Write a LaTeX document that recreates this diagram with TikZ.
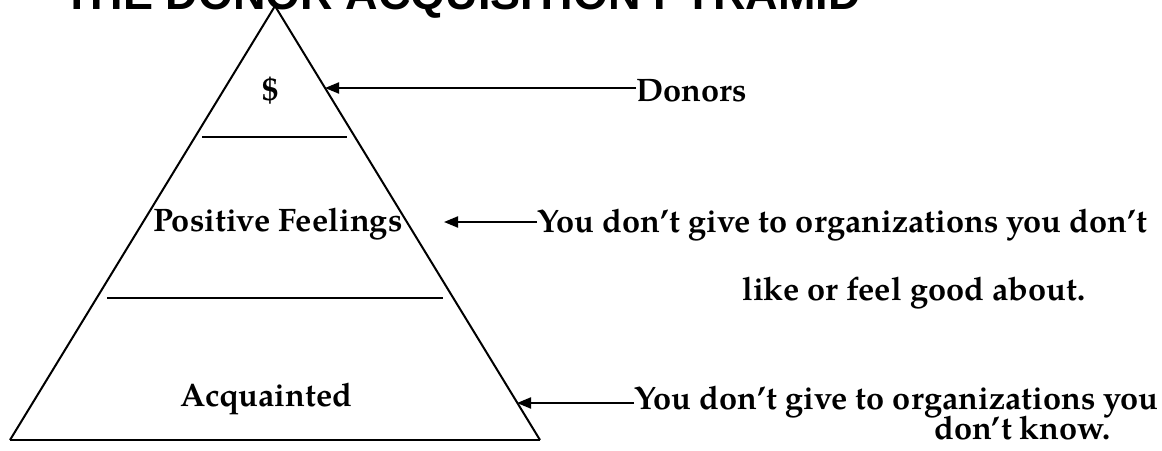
\documentclass[tikz,border=0pt]{standalone}
\usepackage{fontspec}
\setmainfont{TeX Gyre Pagella}
\newfontfamily\titlefont{Liberation Sans}
\usetikzlibrary{arrows.meta,calc}
\begin{document}
\begin{tikzpicture}[x=1pt,y=-1pt,
  lbl/.style={inner sep=0pt, anchor=base west, font=\fontsize{32.5}{39}\selectfont\bfseries},
  edge/.style={line width=2pt, line cap=butt},
  arr/.style={line width=2pt, -{Triangle[length=14pt,width=11pt]}}]
\useasboundingbox (0,0) rectangle (1162,450);
\clip (0,0) rectangle (1162,450);

% heading, partly above the page edge
\node[inner sep=0pt, anchor=base west, font=\titlefont\bfseries\fontsize{45}{50}\selectfont]
  (title) at (63,9) {THE DONOR ACQUISITION PYRAMID};

% pyramid outline
\coordinate (apex) at (275,6);
\coordinate (bl) at (10,440);
\coordinate (br) at (540,440);
\draw[edge, line join=miter] (bl) -- (apex) -- (br);
\draw[line width=2.6pt] (bl) -- (br);

% level dividers
\draw[edge] (202,137) -- (347,137);
\draw[edge] (107,298) -- (443,298);

% level labels
\node[lbl, anchor=base] (dollar) at (271,100) {\$};
\node[lbl] (pos) at (153,231) {Positive Feelings};
\node[lbl] (acq) at (180,406) {Acquainted};

% explanations
\node[lbl] (donors) at (636,101) {Donors};
\node[lbl] (fb1) at (537,232) {You don’t give to organizations you don’t};
\node[lbl] (fb2) at (742,300) {like or feel good about.};
\node[lbl] (kn1) at (634,409) {You don’t give to organizations you};
\node[lbl] (kn2) at (934,439) {don’t know.};

% arrow ends on or near the pyramid
\coordinate (t1) at (325,88);
\coordinate (t2) at (444,222);
\coordinate (t3) at (517,403);
\draw[arr] (donors.west |- t1) -- (t1);
\draw[arr] (fb1.west |- t2) -- (t2);
\draw[arr] (kn1.west |- t3) -- (t3);
\end{tikzpicture}
\end{document}
